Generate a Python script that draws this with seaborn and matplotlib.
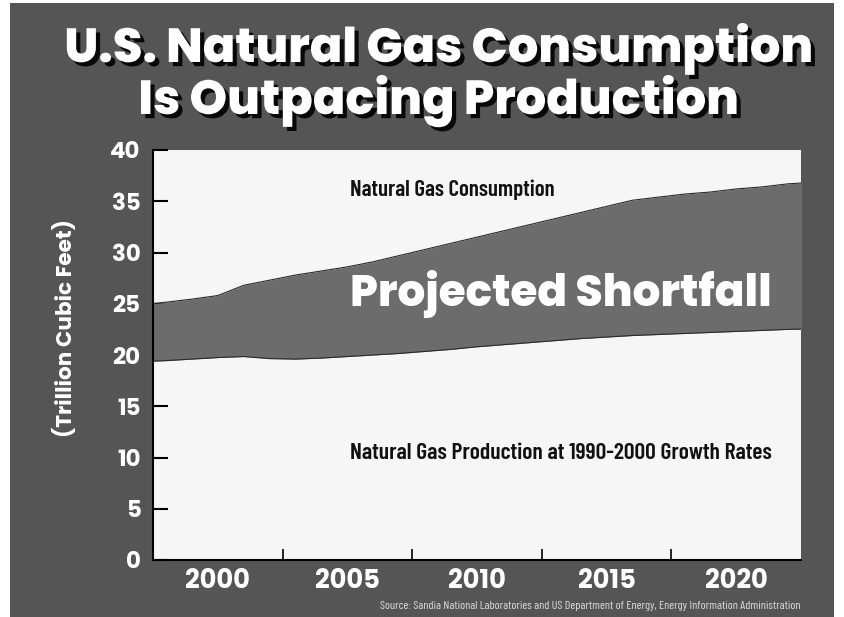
import numpy as np
import pandas as pd
import seaborn as sns
import matplotlib.pyplot as plt
import matplotlib.patheffects as pe
from matplotlib.patches import Rectangle

# values (trillion cubic feet)
years = [1997, 1998, 1999, 2000, 2001, 2002, 2003, 2004, 2005, 2006, 2007, 2008, 2009,
         2010, 2011, 2012, 2013, 2014, 2015, 2016, 2017, 2018, 2019, 2020, 2021, 2022, 2023]
consumption = [24.9, 25.15, 25.45, 25.8, 26.8, 27.3, 27.8, 28.2, 28.6, 29.1, 29.7, 30.3, 30.9,
               31.5, 32.1, 32.7, 33.3, 33.9, 34.5, 35.1, 35.4, 35.7, 35.9, 36.2, 36.4, 36.7, 36.85]
production = [19.35, 19.45, 19.6, 19.75, 19.85, 19.65, 19.6, 19.7, 19.85, 20.0, 20.15, 20.35, 20.55,
              20.8, 21.0, 21.2, 21.4, 21.6, 21.75, 21.9, 22.0, 22.1, 22.2, 22.3, 22.4, 22.5, 22.55]
year_labels = [2000, 2005, 2010, 2015, 2020]
y_ticks = [0, 5, 10, 15, 20, 25, 30, 35, 40]

df = pd.DataFrame({'year': years, 'consumption': consumption, 'production': production})

sns.set_style("ticks")
plt.rcParams['font.family'] = ['Poppins', 'DejaVu Sans']
plt.rcParams['ytick.left'] = True
plt.rcParams['xtick.bottom'] = True

BG = "#555555"
PLOT = "#f6f6f6"
GAP = "#6c6c6c"
COND = ['Barlow Condensed', 'DejaVu Sans']

fig = plt.figure(figsize=(8.44, 6.17), dpi=100)
fig.patch.set_facecolor("white")
fig.patches.append(Rectangle((10 / 844, 0), 824 / 844, 614 / 617, transform=fig.transFigure,
                             facecolor=BG, edgecolor="none", zorder=-10))

ax = fig.add_axes([153 / 844, 1 - 560 / 617, 648 / 844, 410 / 617])
ax.set_zorder(2)
ax.set_facecolor(PLOT)

ax.fill_between(df['year'], df['production'], df['consumption'], color=GAP, lw=0, zorder=1)
sns.lineplot(data=df, x='year', y='consumption', color="#2a2a2a", lw=0.8, ax=ax, zorder=2)
sns.lineplot(data=df, x='year', y='production', color="#2a2a2a", lw=0.8, ax=ax, zorder=2)

ax.set_xlim(1997.5, 2022.5)
ax.set_ylim(0, 40)
ax.set_xlabel("")
ax.set_ylabel("(Trillion Cubic Feet)", color="white", fontsize=15.5, fontweight="bold")
ax.yaxis.set_label_coords(-0.116, 0.566)

ax.set_xticks(year_labels)
ax.set_xticks(np.array(year_labels[:-1]) + 2.5, minor=True)
ax.set_yticks(y_ticks)
ax.tick_params(axis="x", which="major", bottom=True, length=0, pad=6, labelsize=18.5,
               labelcolor="white")
ax.tick_params(axis="x", which="minor", bottom=True, direction="in", length=8, width=1.2,
               color="black")
ax.tick_params(axis="y", which="both", left=True, direction="in", length=11, width=1.5,
               color="black", pad=9, labelsize=16.5, labelcolor="white")
for lab in ax.get_xticklabels() + ax.get_yticklabels():
    lab.set_fontweight("bold")

for s in ["top", "right"]:
    ax.spines[s].set_visible(False)
for s in ["left", "bottom"]:
    ax.spines[s].set_color("black")
    ax.spines[s].set_linewidth(1.5)

ax.text(2005.1, 36.1, "Natural Gas Consumption", family=COND, fontweight=600,
        fontsize=16.5, color="#111111", va="center", ha="left")
ax.text(2005.1, 10.4, "Natural Gas Production at 1990-2000 Growth Rates", family=COND,
        fontweight=600, fontsize=17, color="#111111", va="center", ha="left")
ax.text(2005.1, 26.0, "Projected Shortfall", fontsize=31.5, fontweight=800, color="white",
        va="center", ha="left")

shadow = [pe.withSimplePatchShadow(offset=(3, -3), shadow_rgbFace="black", alpha=0.9)]
fig.text(0.519, 1 - 62 / 617, "U.S. Natural Gas Consumption", ha="center", va="baseline",
         fontsize=34.5, fontweight=800, color="white", path_effects=shadow)
fig.text(0.519, 1 - 114 / 617, "Is Outpacing Production", ha="center", va="baseline",
         fontsize=34.5, fontweight=800, color="white", path_effects=shadow)

fig.text(801 / 844, 1 - 606 / 617,
         "Source: Sandia National Laboratories and US Department of Energy, Energy Information Administration",
         family=COND, fontsize=8.7, color="#dddddd", ha="right", va="center")

fig.savefig("out.png", dpi=100, facecolor=fig.get_facecolor())
